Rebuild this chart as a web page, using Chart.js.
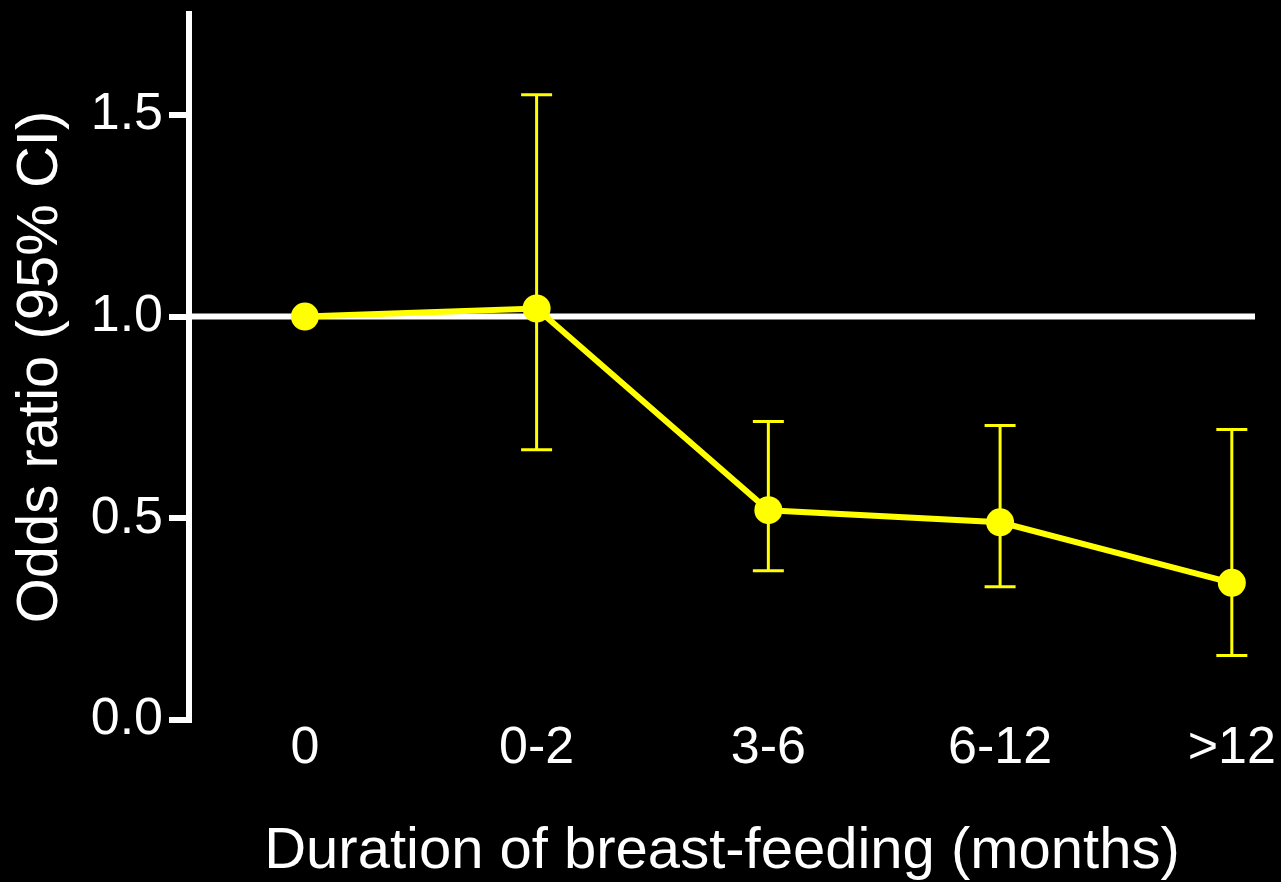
<!DOCTYPE html>
<html>
<head>
<meta charset="utf-8">
<script src="https://cdn.jsdelivr.net/npm/chart.js@4/dist/chart.umd.min.js"></script>
<style>
	html, body { margin: 0; padding: 0; background: #000; }
	#zone { width: 1281px; height: 882px; }
</style>
</head>
<body>
<div id="zone"><canvas id="graphique-odds"></canvas></div>
<script>
// Données
const categories = ["0", "0-2", "3-6", "6-12", ">12"];
const oddsRatio = [1.0, 1.02, 0.52, 0.49, 0.34];
const ciBas = [null, 0.67, 0.37, 0.33, 0.16];
const ciHaut = [null, 1.55, 0.74, 0.73, 0.72];
const yTicks = [0, 0.5, 1.0, 1.5];
const valeurReference = 1.0;

const jaune = "#ffff00";
const blanc = "#ffffff";
const police = "'Liberation Sans', Arial, sans-serif";

// Fond noir + ligne de référence à 1.0 + barres d'erreur
const fondPlugin = {
	id: "fond",
	beforeDraw(chart) {
		const ctx = chart.ctx;
		ctx.save();
		ctx.fillStyle = "#000";
		ctx.fillRect(0, 0, chart.width, chart.height);
		ctx.restore();
	},
	beforeDatasetsDraw(chart) {
		const { ctx, chartArea, scales } = chart;
		const y = scales.y.getPixelForValue(valeurReference);
		ctx.save();
		ctx.strokeStyle = blanc;
		ctx.lineWidth = 6;
		ctx.beginPath();
		ctx.moveTo(chartArea.left, y);
		ctx.lineTo(chartArea.right, y);
		ctx.stroke();

		// barres d'erreur (IC 95%)
		ctx.strokeStyle = jaune;
		ctx.lineWidth = 3;
		for (let i = 0; i < categories.length; i++) {
			if (ciBas[i] === null) continue;
			const x = scales.x.getPixelForValue(i);
			const yb = scales.y.getPixelForValue(ciBas[i]);
			const yh = scales.y.getPixelForValue(ciHaut[i]);
			ctx.beginPath();
			ctx.moveTo(x, yb);
			ctx.lineTo(x, yh);
			ctx.moveTo(x - 15.5, yb);
			ctx.lineTo(x + 15.5, yb);
			ctx.moveTo(x - 15.5, yh);
			ctx.lineTo(x + 15.5, yh);
			ctx.stroke();
		}
		ctx.restore();
	}
};

const data = {
	datasets: [{
		label: "Odds ratio",
		data: oddsRatio.map((v, i) => ({ x: i, y: v })),
		borderColor: jaune,
		backgroundColor: jaune,
		borderWidth: 6,
		pointRadius: 14,
		pointBackgroundColor: jaune,
		pointBorderWidth: 0,
		tension: 0
	}]
};

const config = {
	type: "line",
	data: data,
	plugins: [fondPlugin],
	options: {
		responsive: true,
		maintainAspectRatio: false,
		animation: false,
		layout: { padding: { top: 9, right: 26, left: 0, bottom: 0 } },
		plugins: {
			legend: { display: false },
			tooltip: { enabled: false }
		},
		scales: {
			x: {
				type: "linear",
				min: -0.5,
				max: 4.1,
				afterBuildTicks: (scale) => {
					scale.ticks = categories.map((c, i) => ({ value: i }));
				},
				afterFit: (scale) => {
					scale.height = 162;
					scale.paddingLeft = 0;
					scale.paddingRight = 0;
				},
				grid: { display: false, drawTicks: false },
				border: { display: false },
				ticks: {
					color: blanc,
					font: { family: police, size: 52, lineHeight: 1.1 },
					padding: 0,
					maxRotation: 0,
					autoSkip: false,
					callback: (v) => categories[v]
				},
				title: {
					display: true,
					text: "Duration of breast-feeding (months)",
					color: blanc,
					font: { family: police, size: 58, lineHeight: 1.05 },
					padding: 0
				}
			},
			y: {
				min: 0,
				max: 1.75,
				afterBuildTicks: (scale) => {
					scale.ticks = yTicks.map(v => ({ value: v }));
				},
				afterFit: (scale) => {
					scale.width = 189;
					scale.paddingTop = 0;
					scale.paddingBottom = 0;
				},
				grid: {
					drawOnChartArea: false,
					color: blanc,
					lineWidth: 6,
					tickLength: 20
				},
				border: { color: blanc, width: 6 },
				ticks: {
					color: blanc,
					font: { family: police, size: 52 },
					padding: 6,
					callback: (v) => v.toFixed(1)
				},
				title: {
					display: true,
					text: "Odds ratio (95% CI)",
					color: blanc,
					font: { family: police, size: 58 },
					padding: { top: 6, bottom: 0 }
				}
			}
		}
	}
};

const graphique = new Chart(document.querySelector("#graphique-odds"), config);
</script>
</body>
</html>
